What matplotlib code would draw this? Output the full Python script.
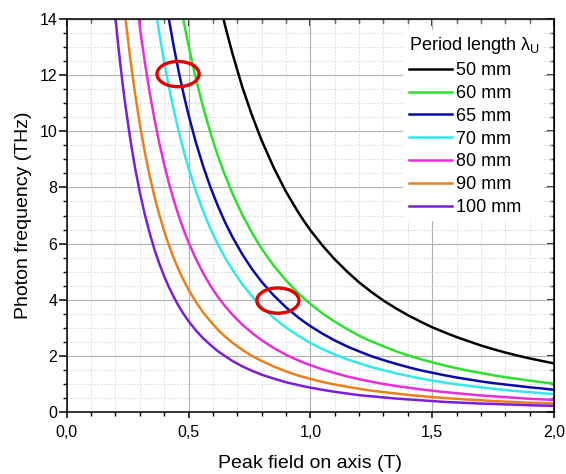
import numpy as np
import matplotlib
matplotlib.use("Agg")
import matplotlib.pyplot as plt
from matplotlib.patches import Ellipse
from matplotlib.ticker import MultipleLocator, FuncFormatter

plt.rcParams['font.family'] = ['Liberation Sans', 'DejaVu Sans']

# peak field on axis (T); every curve uses the tail of this list
field = [0.18, 0.19, 0.20, 0.21, 0.22, 0.23, 0.24, 0.26, 0.28, 0.30, 0.32, 0.34,
         0.36, 0.38, 0.40, 0.42, 0.44, 0.46, 0.48, 0.50, 0.53, 0.56, 0.59, 0.62,
         0.65, 0.68, 0.72, 0.76, 0.80, 0.85, 0.90, 0.95, 0.975, 1.0, 1.05, 1.1,
         1.15, 1.2, 1.25, 1.3, 1.35, 1.4, 1.45, 1.5, 1.55, 1.6, 1.65, 1.7, 1.75,
         1.8, 1.85, 1.9, 1.95, 2.0]
labels = ['50 mm', '60 mm', '65 mm', '70 mm', '80 mm', '90 mm', '100 mm']
colors = ['#000000', '#2ee02e', '#0a0aa8', '#33e8e8', '#e62ed9', '#e8801c', '#7a1fd6']

# photon frequency (THz)
f50 = [14.87, 13.77, 12.78, 11.60, 10.58, 9.68, 8.70, 7.85, 7.12, 6.79, 6.48, 5.93,
       5.44, 5.01, 4.62, 4.28, 3.97, 3.70, 3.45, 3.23, 3.02, 2.84, 2.67, 2.52, 2.37,
       2.24, 2.12, 2.01, 1.91, 1.82, 1.73]
f60 = [14.88, 13.93, 13.06, 11.89, 10.86, 9.95, 9.14, 8.43, 7.79, 7.04, 6.39, 5.82,
       5.21, 4.69, 4.24, 4.04, 3.85, 3.51, 3.22, 2.96, 2.72, 2.52, 2.34, 2.17, 2.02,
       1.89, 1.77, 1.66, 1.56, 1.47, 1.39, 1.31, 1.24, 1.18, 1.12, 1.06, 1.01]
f65 = [15.04, 13.97, 13.00, 12.12, 11.32, 10.59, 9.61, 8.76, 8.01, 7.35, 6.76, 6.24,
       5.63, 5.10, 4.64, 4.15, 3.73, 3.37, 3.21, 3.06, 2.79, 2.55, 2.34, 2.16, 1.99,
       1.85, 1.72, 1.60, 1.49, 1.40, 1.31, 1.23, 1.16, 1.09, 1.03, 0.98, 0.93, 0.88,
       0.84, 0.79]
f70 = [14.63, 13.49, 12.48, 11.56, 10.73, 9.99, 9.31, 8.69, 7.87, 7.16, 6.53, 5.98,
       5.50, 5.07, 4.56, 4.13, 3.76, 3.35, 3.01, 2.72, 2.59, 2.46, 2.24, 2.05, 1.88,
       1.74, 1.60, 1.49, 1.38, 1.29, 1.20, 1.12, 1.05, 0.99, 0.93, 0.88, 0.83, 0.78,
       0.74, 0.71, 0.67, 0.64]
f80 = [15.13, 13.74, 12.50, 11.41, 10.45, 9.59, 8.83, 8.14, 7.53, 6.99, 6.49, 6.05,
       5.46, 4.95, 4.50, 4.11, 3.77, 3.47, 3.12, 2.82, 2.56, 2.28, 2.04, 1.84, 1.75,
       1.67, 1.52, 1.39, 1.27, 1.17, 1.08, 1.00, 0.93, 0.87, 0.81, 0.76, 0.71, 0.67,
       0.63, 0.59, 0.56, 0.53, 0.50, 0.47, 0.45, 0.43]
f90 = [14.13, 12.66, 11.38, 10.26, 9.29, 8.44, 7.69, 7.03, 6.45, 5.93, 5.47, 5.06,
       4.69, 4.36, 3.93, 3.55, 3.23, 2.94, 2.69, 2.47, 2.22, 2.00, 1.82, 1.62, 1.45,
       1.30, 1.24, 1.18, 1.07, 0.98, 0.90, 0.83, 0.76, 0.71, 0.66, 0.61, 0.57, 0.53,
       0.50, 0.47, 0.44, 0.42, 0.39, 0.37, 0.35, 0.33, 0.32, 0.30]
f100 = [14.06, 13.20, 12.41, 11.67, 10.99, 9.78, 8.73, 7.84, 7.06, 6.39, 5.80, 5.29,
        4.84, 4.44, 4.09, 3.77, 3.49, 3.24, 2.91, 2.63, 2.39, 2.17, 1.99, 1.82, 1.63,
        1.47, 1.33, 1.19, 1.06, 0.96, 0.91, 0.87, 0.79, 0.72, 0.66, 0.60, 0.56, 0.52,
        0.48, 0.45, 0.42, 0.39, 0.36, 0.34, 0.32, 0.30, 0.29, 0.27, 0.26, 0.24, 0.23,
        0.22]
series = [f50, f60, f65, f70, f80, f90, f100]

fig = plt.figure(figsize=(5.66, 4.74), dpi=100)
ax = fig.add_axes([0.1178, 0.1308, 0.861, 0.829])

for vals, lab, col in zip(series, labels, colors):
    ax.plot(field[-len(vals):], vals, color=col, lw=1.8, label=lab)

# red circles
for cx, cy in [(0.457, 12.04), (0.867, 3.97)]:
    ax.add_patch(Ellipse((cx, cy), 0.173, 0.90, fill=False, edgecolor='#e00000', lw=2.4, zorder=5))

ax.set_xlim(0, 2)
ax.set_ylim(0, 14)
ax.xaxis.set_major_locator(MultipleLocator(0.5))
ax.xaxis.set_minor_locator(MultipleLocator(0.1))
ax.yaxis.set_major_locator(MultipleLocator(2))
ax.yaxis.set_minor_locator(MultipleLocator(0.5))
ax.xaxis.set_major_formatter(FuncFormatter(lambda v, p: ('%.1f' % v).replace('.', ',')))

ax.set_axisbelow(True)
ax.grid(which='major', color='#b0b0b0', lw=0.8)
ax.grid(which='minor', color='#d4d4d4', lw=0.6, linestyle=(0, (2, 2)))

for s in ax.spines.values():
    s.set_linewidth(1.1)
ax.tick_params(axis='y', which='major', direction='out', length=5.8, width=1.1, pad=1, labelsize=11.5)
ax.tick_params(axis='y', which='minor', direction='out', length=2.9, width=1.0)
ax.tick_params(axis='x', which='major', direction='out', length=4.5, width=1.1, pad=5, labelsize=11.5)
ax.tick_params(axis='x', which='minor', direction='out', length=2.7, width=1.0)

# mirrored inward ticks on top and right
top = ax.secondary_xaxis('top')
top.xaxis.set_major_locator(MultipleLocator(0.5))
top.xaxis.set_minor_locator(MultipleLocator(0.1))
top.tick_params(which='major', direction='in', length=5, width=1.1, labeltop=False)
top.tick_params(which='minor', direction='in', length=3, width=1.0)
right = ax.secondary_yaxis('right')
right.yaxis.set_major_locator(MultipleLocator(2))
right.yaxis.set_minor_locator(MultipleLocator(0.5))
right.tick_params(which='major', direction='in', length=5, width=1.1, labelright=False)
right.tick_params(which='minor', direction='in', length=3, width=1.0)

ax.set_xlabel('Peak field on axis (T)', fontsize=14, labelpad=11)
ax.set_ylabel('Photon frequency (THz)', fontsize=14, labelpad=5.5)

leg = ax.legend(loc='upper left', bbox_to_anchor=(0.672, 0.995), fontsize=13,
                title='Period length λ$_\\mathregular{U}$', title_fontsize=13,
                frameon=True, facecolor='white', edgecolor='none', framealpha=1,
                handlelength=2.4, handletextpad=0.22, labelspacing=0.32,
                borderpad=0.3, fancybox=False)
leg._legend_box.align = 'left'

fig.savefig('out.png', dpi=100)
